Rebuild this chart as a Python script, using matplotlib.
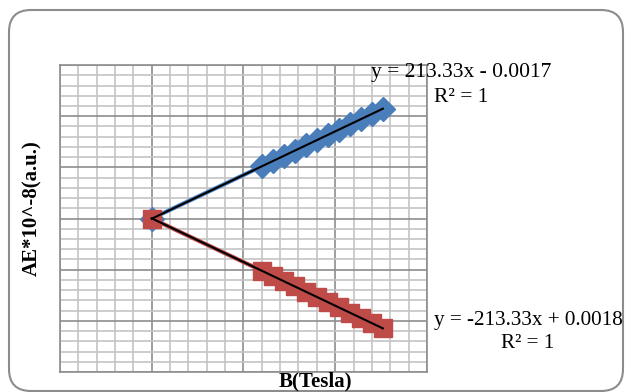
import matplotlib
matplotlib.use('Agg')
import matplotlib.pyplot as plt
from matplotlib.patches import FancyBboxPatch
from matplotlib.transforms import IdentityTransform
from matplotlib.ticker import MultipleLocator

# data
B = [0.0, 0.0024, 0.00264, 0.00288, 0.00312, 0.00336, 0.0036, 0.00384,
     0.00408, 0.00432, 0.00456, 0.0048, 0.00504]
AE_up = [0.0, 0.510, 0.561, 0.613, 0.664, 0.715, 0.766, 0.818,
         0.869, 0.920, 0.971, 1.022, 1.074]
AE_down = [0.0, -0.510, -0.561, -0.613, -0.664, -0.715, -0.766, -0.818,
           -0.869, -0.920, -0.971, -1.022, -1.073]
fit_x = [0.0, 0.00504]
fit_up = [-0.0017, 1.0735]
fit_down = [0.0018, -1.0734]

plt.rcParams['font.family'] = ['Liberation Serif', 'DejaVu Serif']

fig = plt.figure(figsize=(6.25, 3.92), dpi=100)
ax = fig.add_axes([0.096, 0.051, 0.587, 0.783])

# rounded chart border (pixel coordinates)
border = FancyBboxPatch((9, 1), 614, 381,
                        boxstyle='round,pad=0,rounding_size=22',
                        transform=IdentityTransform(), fill=False,
                        edgecolor='#8c8c8c', linewidth=1.5, zorder=0)
fig.patches.append(border)

ax.set_xlim(-0.002, 0.006)
ax.set_ylim(-1.5, 1.5)
ax.xaxis.set_major_locator(MultipleLocator(0.002))
ax.xaxis.set_minor_locator(MultipleLocator(0.0004))
ax.yaxis.set_major_locator(MultipleLocator(0.5))
ax.yaxis.set_minor_locator(MultipleLocator(0.1))
ax.grid(which='minor', color='#c4c4c4', linewidth=1.2)
ax.grid(which='major', color='#8e8e8e', linewidth=1.2)
ax.set_axisbelow(True)
ax.tick_params(which='both', length=0, labelbottom=False, labelleft=False)
for s in ax.spines.values():
    s.set_color('#8e8e8e')
    s.set_linewidth(1.2)

ax.plot(B, AE_up, '-', color='#4a7ebb', linewidth=3, marker='D',
        markersize=12, markerfacecolor='#4a7ebb', markeredgecolor='#4a7ebb')
ax.plot(B, AE_down, '-', color='#be4b48', linewidth=3, marker='s',
        markersize=13, markerfacecolor='#be4b48', markeredgecolor='#be4b48')
ax.plot(fit_x, fit_up, '-', color='black', linewidth=1.5)
ax.plot(fit_x, fit_down, '-', color='black', linewidth=1.5)

fig.text(461/625, 1 - 72/392, 'y = 213.33x - 0.0017', fontsize=15.5,
         ha='center', va='center')
fig.text(461/625, 1 - 97/392, 'R² = 1', fontsize=15.5, ha='center', va='center')
fig.text(528/625, 1 - 320/392, 'y = -213.33x + 0.0018', fontsize=15.2,
         ha='center', va='center')
fig.text(528/625, 1 - 344/392, 'R² = 1', fontsize=15.2, ha='center', va='center')

fig.text(315/625, 1 - 381/392, 'B(Tesla)', fontsize=15, fontweight='bold',
         ha='center', va='center')
fig.text(32/625, 1 - 208/392, 'AE*10^-8(a.u.)', fontsize=15, fontweight='bold',
         ha='center', va='center', rotation=90)

fig.savefig('out.png', dpi=100)
